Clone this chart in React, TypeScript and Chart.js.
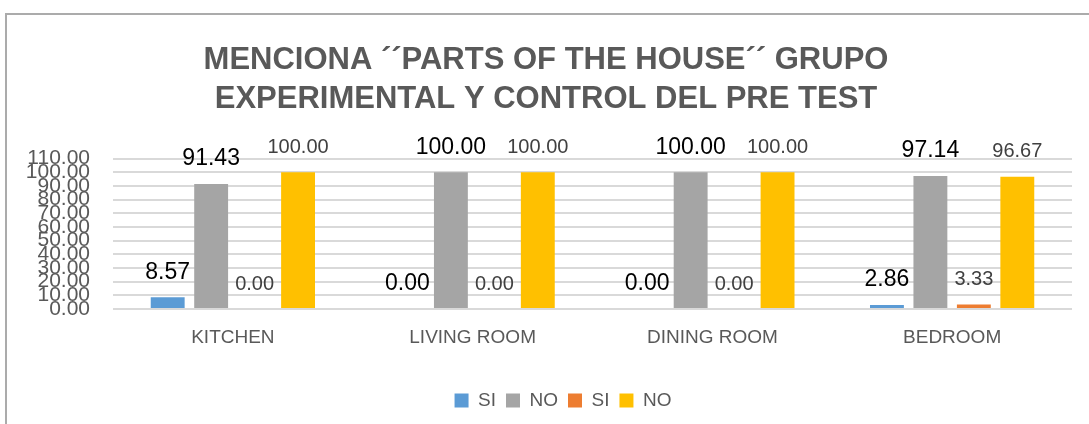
import React, { useEffect, useRef } from "react";
import { Chart, registerables } from "chart.js";

Chart.register(...registerables);

const categories = ["KITCHEN", "LIVING ROOM", "DINING ROOM", "BEDROOM"];
const expSi = [8.57, 0.0, 0.0, 2.86];
const expNo = [91.43, 100.0, 100.0, 97.14];
const ctrlSi = [0.0, 0.0, 0.0, 3.33];
const ctrlNo = [100.0, 100.0, 100.0, 96.67];
const seriesNames = ["SI", "NO", "SI", "NO"];
const titleLines = [
  "MENCIONA \u00B4\u00B4PARTS OF THE HOUSE\u00B4\u00B4 GRUPO",
  "EXPERIMENTAL Y CONTROL DEL PRE TEST",
];

const FONT = "'Liberation Sans', Arial, sans-serif";
const GRAY = "#595959";

const frame = {
  id: "frame",
  afterLayout(chart: any) {
    if (chart.legend) {
      chart.legend.left += 17;
      chart.legend.right += 17;
    }
  },
  beforeDraw(chart: any) {
    const ctx = chart.ctx;
    ctx.save();
    ctx.fillStyle = "#ffffff";
    ctx.fillRect(0, 0, chart.width, chart.height);
    ctx.strokeStyle = "#ababab";
    ctx.lineWidth = 2;
    ctx.beginPath();
    ctx.moveTo(6, chart.height + 5);
    ctx.lineTo(6, 14);
    ctx.lineTo(chart.width + 5, 14);
    ctx.stroke();
    ctx.restore();
  },
};

const labelsPlugin = {
  id: "valueLabels",
  afterDatasetsDraw(chart: any) {
    const ctx = chart.ctx;
    ctx.save();
    ctx.textAlign = "center";
    ctx.textBaseline = "middle";
    chart.data.datasets.forEach((ds: any, i: number) => {
      const meta = chart.getDatasetMeta(i);
      const black = i < 2;
      ctx.fillStyle = black ? "#000000" : "#404040";
      ctx.font = (black ? "23px " : "20px ") + FONT;
      meta.data.forEach((el: any, j: number) => {
        const v = ds.data[j];
        ctx.fillText(Number(v).toFixed(2), el.x, el.y - 25);
      });
    });
    ctx.restore();
  },
};

export default function App() {
  const ref = useRef<HTMLCanvasElement | null>(null);
  useEffect(() => {
    if (!ref.current) return;
    const chart = new Chart(ref.current, {
      type: "bar",
      data: {
        labels: categories,
        datasets: [
          { label: seriesNames[0], data: expSi, backgroundColor: "#5B9BD5" },
          { label: seriesNames[1], data: expNo, backgroundColor: "#A5A5A5" },
          { label: seriesNames[2], data: ctrlSi, backgroundColor: "#ED7D31" },
          { label: seriesNames[3], data: ctrlNo, backgroundColor: "#FFC000" },
        ],
      },
      options: {
        responsive: false,
        animation: false,
        layout: { padding: { left: 20, right: 17, top: 0, bottom: 4 } },
        datasets: {
          bar: { categoryPercentage: 0.725, barPercentage: 0.78 },
        },
        plugins: {
          title: {
            display: true,
            text: titleLines,
            color: GRAY,
            font: { family: FONT, size: 31, weight: "bold", lineHeight: 1.25 },
            padding: { top: 41, bottom: 40 },
          },
          legend: {
            position: "bottom",
            labels: {
              boxWidth: 14,
              boxHeight: 14,
              padding: 10,
              color: GRAY,
              font: { family: FONT, size: 19 },
            },
          },
          tooltip: { enabled: false },
        },
        scales: {
          x: {
            grid: { display: false },
            border: { display: false },
            afterFit: (s: any) => {
              s.height = 72;
            },
            ticks: {
              color: GRAY,
              font: { family: FONT, size: 19 },
              padding: 9,
            },
          },
          y: {
            min: 0,
            max: 110,
            border: { display: false },
            grid: { color: "#d9d9d9", lineWidth: 2, drawTicks: false },
            afterFit: (s: any) => {
              s.width = 93;
            },
            ticks: {
              stepSize: 10,
              autoSkip: false,
              padding: 23,
              color: GRAY,
              font: { family: FONT, size: 21 },
              callback: (v: any) => Number(v).toFixed(2),
            },
          },
        },
      },
      plugins: [frame, labelsPlugin],
    } as any);
    return () => chart.destroy();
  }, []);
  return (
    <div style={{ position: "fixed", left: 0, top: 0, width: 1089, height: 424 }}>
      <canvas ref={ref} width={1089} height={424} />
    </div>
  );
}
